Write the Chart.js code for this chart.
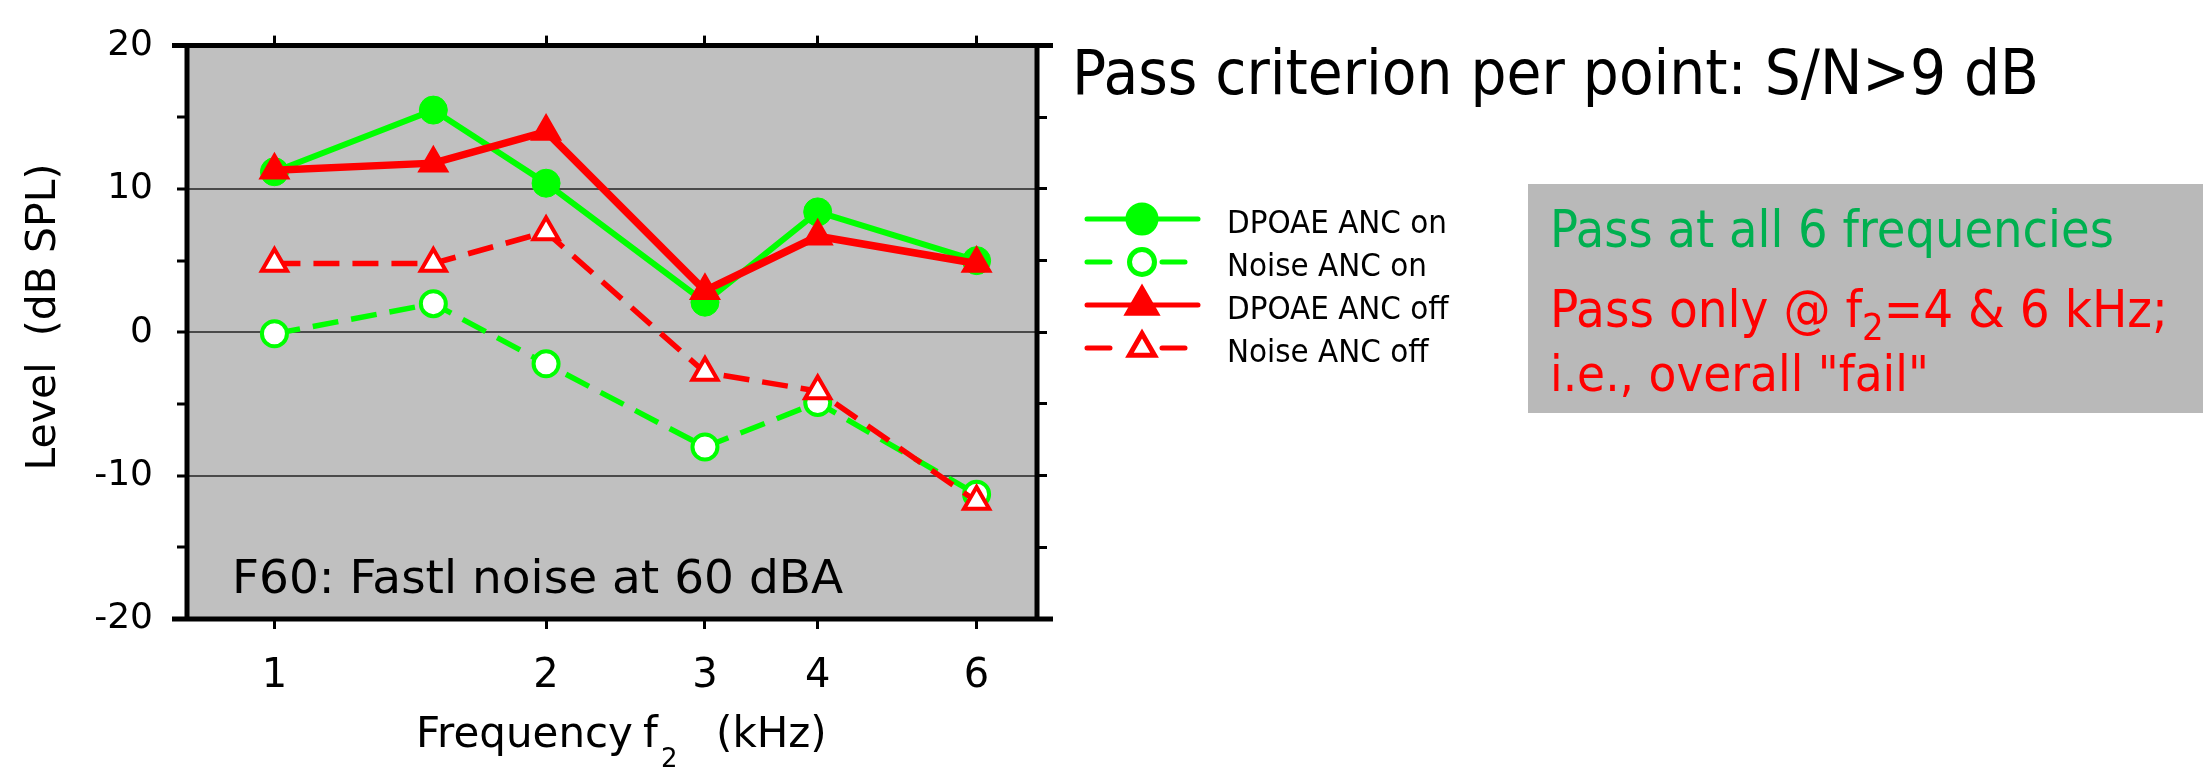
<!DOCTYPE html>
<html>
<head>
<meta charset="utf-8">
<title>DPOAE - ANC on / off</title>
<script src="https://cdn.jsdelivr.net/npm/chart.js@4.4.0/dist/chart.umd.min.js"></script>
<style>
  html, body { margin: 0; padding: 0; background: #fff; }
  #conteneur { width: 2203px; height: 770px; position: relative; }
</style>
</head>
<body>
<div id="conteneur"><canvas id="graphique-dpoae"></canvas></div>
<script>
/* global Chart */
// frequences f2 en kHz
const frequences = [1, 1.5, 2, 3, 4, 6];
// niveaux en dB SPL pour chaque serie
const dpoaeAncOn = [11.2, 15.5, 10.4, 2.1, 8.4, 5.0];
const bruitAncOn = [-0.1, 2.0, -2.2, -8.0, -4.9, -11.3];
const dpoaeAncOff = [11.3, 11.8, 14.0, 2.9, 6.7, 4.8];
const bruitAncOff = [4.8, 4.8, 7.0, -2.8, -4.1, -11.8];
// graduations affichees sur l'axe x
const graduationsX = [1, 2, 3, 4, 6];
const nomsSeries = ["DPOAE ANC on", "Noise ANC on", "DPOAE ANC off", "Noise ANC off"];

const VERT = "#00ff00";
const ROUGE = "#ff0000";
const POLICE = "'DejaVu Sans', sans-serif";
const POLICE_DIAPO = "'DejaVu Sans Condensed', 'Liberation Sans', sans-serif";

// zone du graphique (pixels du canvas)
const GAUCHE = 187, DROITE = 1037, HAUT = 23, BAS = 619;
const LARGEUR = 2203, HAUTEUR = 770;

function enPoints(valeurs) {
  return frequences.map((f, i) => ({ x: f, y: valeurs[i] }));
}

const datasets = [
  {
    label: nomsSeries[0],
    data: enPoints(dpoaeAncOn),
    borderColor: VERT,
    backgroundColor: VERT,
    borderWidth: 6,
    pointStyle: "circle",
    pointRadius: 14,
    pointBackgroundColor: VERT,
    pointBorderColor: VERT,
    pointBorderWidth: 1,
    order: 2,
  },
  {
    label: nomsSeries[1],
    data: enPoints(bruitAncOn),
    borderColor: VERT,
    backgroundColor: VERT,
    borderWidth: 5.5,
    borderDash: [26, 13],
    pointStyle: "circle",
    pointRadius: 12.5,
    pointBackgroundColor: "#ffffff",
    pointBorderColor: VERT,
    pointBorderWidth: 4,
    order: 3,
  },
  {
    label: nomsSeries[2],
    data: enPoints(dpoaeAncOff),
    borderColor: ROUGE,
    backgroundColor: ROUGE,
    borderWidth: 7.5,
    pointStyle: "triangle",
    pointRadius: 16.5,
    pointBackgroundColor: ROUGE,
    pointBorderColor: ROUGE,
    pointBorderWidth: 2,
    order: 0,
  },
  {
    label: nomsSeries[3],
    data: enPoints(bruitAncOff),
    borderColor: ROUGE,
    backgroundColor: ROUGE,
    borderWidth: 5.5,
    borderDash: [26, 13],
    pointStyle: "triangle",
    pointRadius: 14.5,
    pointBackgroundColor: "#ffffff",
    pointBorderColor: ROUGE,
    pointBorderWidth: 4,
    order: 1,
  },
];

// fond gris de la zone de trace
const fondGris = {
  id: "fondGris",
  beforeDraw(chart) {
    const { ctx, chartArea: a } = chart;
    ctx.save();
    ctx.fillStyle = "#fff";
    ctx.fillRect(0, 0, chart.width, chart.height);
    ctx.fillStyle = "#c0c0c0";
    ctx.fillRect(a.left, a.top, a.right - a.left, a.bottom - a.top);
    ctx.restore();
  },
};

// cadre noir epais, les lignes horizontales depassent un peu
const cadre = {
  id: "cadre",
  afterDraw(chart) {
    const { ctx, chartArea: a } = chart;
    ctx.save();
    ctx.strokeStyle = "#000";
    ctx.lineWidth = 5;
    ctx.beginPath();
    ctx.moveTo(a.left - 15, a.top);
    ctx.lineTo(a.right + 16, a.top);
    ctx.moveTo(a.left - 15, a.bottom);
    ctx.lineTo(a.right + 16, a.bottom);
    ctx.moveTo(a.left, a.top);
    ctx.lineTo(a.left, a.bottom);
    ctx.moveTo(a.right, a.top);
    ctx.lineTo(a.right, a.bottom);
    ctx.stroke();
    ctx.restore();
  },
};

// largeur d'un texte en morceaux (indices compris) pour une taille de base
function largeurMorceaux(ctx, morceaux, police, echelle) {
  let l = 0;
  for (const m of morceaux) {
    ctx.font = `${m.taille * echelle}px ${police}`;
    l += ctx.measureText(m.texte).width;
  }
  return l;
}

// texte avec morceaux en indice (f2) ; si largeur est donnee, la taille s'adapte
function texteRiche(ctx, x, y, morceaux, couleur, police, largeur) {
  const echelle = largeur ? largeur / largeurMorceaux(ctx, morceaux, police, 1) : 1;
  ctx.fillStyle = couleur;
  ctx.textAlign = "left";
  ctx.textBaseline = "alphabetic";
  let cx = x;
  for (const m of morceaux) {
    ctx.font = `${m.taille * echelle}px ${police}`;
    if (m.x !== undefined) cx = m.x;
    ctx.fillText(m.texte, cx, y + (m.dy || 0) * echelle);
    cx += ctx.measureText(m.texte).width;
  }
  return echelle;
}

function dessinerMarqueur(ctx, ds, x, y) {
  ctx.fillStyle = ds.pointBackgroundColor;
  ctx.strokeStyle = ds.pointBorderColor;
  ctx.setLineDash([]);
  Chart.helpers.drawPoint(
    ctx,
    { pointStyle: ds.pointStyle, radius: ds.pointRadius, borderWidth: ds.pointBorderWidth, rotation: 0 },
    x,
    y
  );
}

// titres, legende et textes autour du graphique
const textes = {
  id: "textes",
  afterDraw(chart) {
    const ctx = chart.ctx;
    ctx.save();

    // titre axe y
    ctx.save();
    ctx.translate(44, 317);
    ctx.rotate(-Math.PI / 2);
    ctx.font = `41px ${POLICE}`;
    ctx.fillStyle = "#000";
    ctx.textAlign = "center";
    ctx.textBaseline = "middle";
    ctx.fillText("Level  (dB SPL)", 0, 0);
    ctx.restore();

    // titre axe x
    texteRiche(ctx, 416, 747, [
      { texte: "Frequency", taille: 42 },
      { texte: "f", taille: 42, x: 643 },
      { texte: "2", taille: 26, dy: 20, x: 661 },
      { texte: "(kHz)", taille: 42, x: 716 },
    ], "#000", POLICE);

    // condition de mesure
    texteRiche(ctx, 232, 593, [{ texte: "F60: Fastl noise at 60 dBA", taille: 47 }], "#000", POLICE);

    // critere
    texteRiche(ctx, 1072, 94, [{ texte: "Pass criterion per point: S/N>9 dB", taille: 60 }], "#000", POLICE_DIAPO, 967);

    // legende : trait + marqueur + nom
    ctx.font = `30px ${POLICE_DIAPO}`;
    const tailleLegende = 30 * 220 / ctx.measureText(nomsSeries[0]).width;
    const lignesY = [219, 262, 305, 348];
    datasets.forEach((ds, i) => {
      const y = lignesY[i];
      ctx.strokeStyle = ds.borderColor;
      ctx.lineWidth = 5;
      ctx.lineCap = "round";
      ctx.setLineDash([]);
      ctx.beginPath();
      if (ds.borderDash) {
        ctx.moveTo(1087, y);
        ctx.lineTo(1110, y);
        ctx.moveTo(1162, y);
        ctx.lineTo(1185, y);
      } else {
        ctx.moveTo(1087, y);
        ctx.lineTo(1198, y);
      }
      ctx.stroke();
      dessinerMarqueur(ctx, ds, 1142, y);
      texteRiche(ctx, 1227, y + 14, [{ texte: ds.label, taille: tailleLegende }], "#000", POLICE_DIAPO);
    });

    // encadre gris avec le resultat
    ctx.fillStyle = "#b9b9b9";
    ctx.fillRect(1528, 184, LARGEUR - 1528, 229);
    texteRiche(ctx, 1550, 247, [{ texte: "Pass at all 6 frequencies", taille: 51 }], "#00b050", POLICE_DIAPO, 564);
    texteRiche(ctx, 1550, 327, [
      { texte: "Pass only @ f", taille: 51 },
      { texte: "2", taille: 37, dy: 13 },
      { texte: "=4 & 6 kHz;", taille: 51 },
    ], ROUGE, POLICE_DIAPO, 618);
    texteRiche(ctx, 1550, 391, [{ texte: 'i.e., overall "fail"', taille: 51 }], ROUGE, POLICE_DIAPO, 379);

    ctx.restore();
  },
};

const graduation = { tickLength: 10, tickWidth: 3, tickColor: "#000" };

const config = {
  type: "line",
  data: { datasets: datasets },
  options: {
    responsive: true,
    maintainAspectRatio: false,
    animation: false,
    layout: { padding: 0 },
    plugins: { legend: { display: false }, tooltip: { enabled: false } },
    elements: { line: { tension: 0 } },
    scales: {
      x: {
        type: "logarithmic",
        position: "bottom",
        min: 0.8,
        max: 7,
        afterBuildTicks: (s) => { s.ticks = graduationsX.map((v) => ({ value: v })); },
        afterFit: (s) => { s.height = HAUTEUR - BAS; },
        grid: { drawOnChartArea: false, ...graduation },
        border: { display: false },
        ticks: {
          autoSkip: false,
          maxRotation: 0,
          padding: 24,
          color: "#000",
          font: { family: POLICE, size: 40 },
          callback: (v) => String(v),
        },
      },
      x2: {
        type: "logarithmic",
        position: "top",
        min: 0.8,
        max: 7,
        afterBuildTicks: (s) => { s.ticks = graduationsX.map((v) => ({ value: v })); },
        afterFit: (s) => { s.height = HAUT; },
        grid: { drawOnChartArea: false, ...graduation },
        border: { display: false },
        ticks: { display: false },
      },
      y: {
        type: "linear",
        position: "left",
        min: -20,
        max: 20,
        afterFit: (s) => { s.width = GAUCHE; },
        grid: {
          ...graduation,
          lineWidth: 2,
          color: (c) => ([10, 0, -10].includes(c.tick.value) ? "#4a4a4a" : "rgba(0,0,0,0)"),
        },
        border: { display: false },
        ticks: {
          stepSize: 5,
          padding: 24,
          color: "#000",
          font: { family: POLICE, size: 36 },
          callback: (v) => (v % 10 === 0 ? String(v) : ""),
        },
      },
      y2: {
        type: "linear",
        position: "right",
        min: -20,
        max: 20,
        afterFit: (s) => { s.width = LARGEUR - DROITE; },
        grid: { drawOnChartArea: false, ...graduation },
        border: { display: false },
        ticks: { stepSize: 5, display: false },
      },
    },
  },
  plugins: [fondGris, textes, cadre],
};

new Chart(document.querySelector("#graphique-dpoae"), config);
</script>
</body>
</html>
